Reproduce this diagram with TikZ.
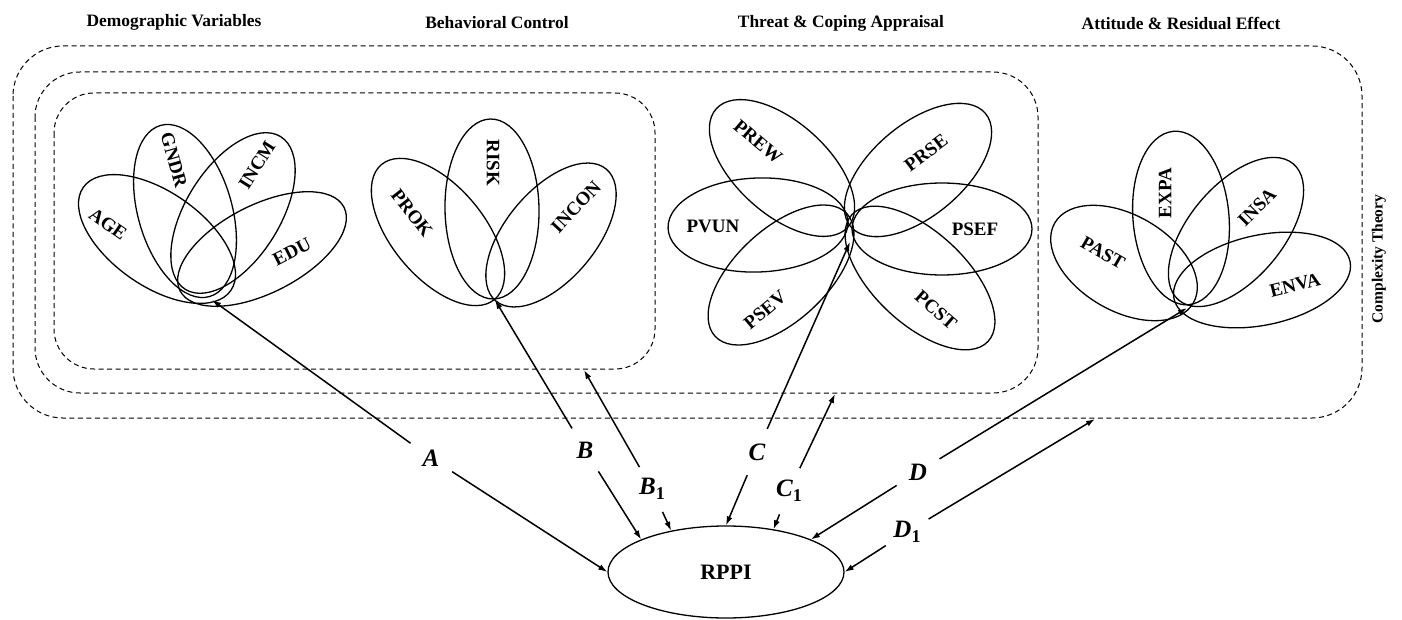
\documentclass[tikz,border=0pt]{standalone}
\usepackage{fontspec}
\setmainfont{Liberation Serif}
\usetikzlibrary{shapes.geometric,arrows.meta}

\newcommand{\subone}{\raisebox{-5pt}{\fontsize{18}{20}\selectfont\upshape 1}}

\begin{document}
\begin{tikzpicture}[x=1pt, y=-1pt,
    petal/.style={draw, line width=1.3pt},
    ptext/.style={font=\fontsize{19}{22}\selectfont\bfseries, inner sep=0pt},
    head/.style={font=\fontsize{17.4}{20}\selectfont\bfseries},
    dbox/.style={draw, line width=1pt, dash pattern=on 5pt off 3.5pt},
    lab/.style={circle, minimum size=50pt, inner sep=0pt, font=\fontsize{25}{27}\selectfont\bfseries\itshape},
    arr/.style={-{Latex[length=9pt,width=6pt]}, line width=1.5pt}]
    \useasboundingbox (0,0) rectangle (1402,620);

    \node[head] (hdem) at (174,22) {Demographic Variables};
    \node[head] (hbeh) at (497,23) {Behavioral Control};
    \node[head] (hthr) at (841,23) {Threat \& Coping Appraisal};
    \node[head] (hatt) at (1181,23) {Attitude \& Residual Effect};
    \node[head, font=\fontsize{15.5}{18}\selectfont\bfseries, rotate=90] (hcx) at (1379,259) {Complexity Theory};

    \draw[dbox, rounded corners=50pt] (13,46) rectangle (1362,418);
    \draw[dbox, rounded corners=45pt] (35,72) rectangle (1038,393);
    \draw[dbox, rounded corners=40pt] (54,93) rectangle (655,369);

    % demographic variables
    \draw[petal, rotate around={-35:(157,239)}] (157,239) ellipse [x radius=90, y radius=47];
    \node[ptext, rotate=-35] (tage) at (108,224) {AGE};
    \draw[petal, rotate around={-74:(185,211)}] (185,211) ellipse [x radius=89, y radius=47];
    \node[ptext, rotate=-74] (tgndr) at (174,160) {GNDR};
    \draw[petal, rotate around={58:(233,213)}] (233,213) ellipse [x radius=90, y radius=47];
    \node[ptext, rotate=58] (tincm) at (257,165) {INCM};
    \draw[petal, rotate around={27:(262,249)}] (262,249) ellipse [x radius=92, y radius=44];
    \node[ptext, rotate=27] (tedu) at (292,252) {EDU};
    \coordinate (fa) at (212,300);

    % behavioral control
    \draw[petal, rotate around={-50:(438,232)}] (438,232) ellipse [x radius=88, y radius=46];
    \node[ptext, rotate=-52] (tprok) at (412,213) {PROK};
    \draw[petal, rotate around={-89:(492,209)}] (492,209) ellipse [x radius=90, y radius=47];
    \node[ptext, rotate=-90] (trisk) at (493,163) {RISK};
    \draw[petal, rotate around={50:(551,235)}] (551,235) ellipse [x radius=86, y radius=45];
    \node[ptext, rotate=47] (tincon) at (576,207) {INCON};
    \coordinate (fb) at (495,300);

    % threat & coping
    \draw[petal, rotate around={-42:(782,168)}] (782,168) ellipse [x radius=88.5, y radius=46];
    \node[ptext, rotate=-40] (tprew) at (758,142) {PREW};
    \draw[petal, rotate around={40:(918,170)}] (918,170) ellipse [x radius=88, y radius=46];
    \node[ptext, rotate=37] (tprse) at (926,153) {PRSE};
    \draw[petal, rotate around={2:(758,225)}] (758,225) ellipse [x radius=90, y radius=47];
    \node[ptext] (tpvun) at (713,226) {PVUN};
    \draw[petal] (942,229) ellipse [x radius=90, y radius=46];
    \node[ptext] (tpsef) at (975,229) {PSEF};
    \draw[petal, rotate around={43:(781,275)}] (781,275) ellipse [x radius=90, y radius=46];
    \node[ptext, rotate=40] (tpsev) at (765,310) {PSEV};
    \draw[petal, rotate around={-43:(920,278)}] (920,278) ellipse [x radius=93, y radius=46];
    \node[ptext, rotate=-41] (tpcst) at (936,310) {PCST};
    \coordinate (fc) at (850,242);

    % attitude & residual effect
    \draw[petal, rotate around={-30:(1124,263)}] (1124,263) ellipse [x radius=80, y radius=48];
    \node[ptext, rotate=-30] (tpast) at (1103,253) {PAST};
    \draw[petal, rotate around={95:(1181,218)}] (1181,218) ellipse [x radius=87, y radius=48];
    \node[ptext, rotate=90] (texpa) at (1165,193) {EXPA};
    \draw[petal, rotate around={50:(1236,232)}] (1236,232) ellipse [x radius=89, y radius=47];
    \node[ptext, rotate=45] (tinsa) at (1257,207) {INSA};
    \draw[petal, rotate around={12:(1262,280)}] (1262,280) ellipse [x radius=90, y radius=45];
    \node[ptext, rotate=14] (tenva) at (1295,285) {ENVA};
    \coordinate (fd) at (1187,308);

    % box edges
    \coordinate (bin) at (584,370);
    \coordinate (bmid) at (835,394);
    \coordinate (bout) at (1095,419);

    \node[draw, ellipse, line width=1.3pt, minimum width=236pt, minimum height=92pt,
          font=\fontsize{22}{24}\selectfont\bfseries] (rppi) at (726,572) {RPPI};

    \node[lab] (la) at (431,458) {A};
    \node[lab] (lb) at (585,450) {B};
    \node[lab] (lb1) at (652,489) {B\subone};
    \node[lab] (lc) at (757,452) {C};
    \node[lab] (lc1) at (789,491) {C\subone};
    \node[lab] (ld) at (918,472) {D};
    \node[lab] (ld1) at (907,532) {D\subone};

    \draw[arr] (la) -- (fa);
    \draw[arr] (la) -- (rppi.180);
    \draw[arr] (lb) -- (fb);
    \draw[arr] (lb) -- (rppi.159);
    \draw[arr] (lb1) -- (bin);
    \draw[arr] (lb1) -- (rppi.143);
    \draw[arr] (lc) -- (fc);
    \draw[arr] (lc) -- (rppi.90);
    \draw[arr] (lc1) -- (bmid);
    \draw[arr] (lc1) -- (rppi.42);
    \draw[arr] (ld) -- (fd);
    \draw[arr] (ld) -- (rppi.21);
    \draw[arr] (ld1) -- (bout);
    \draw[arr] (ld1) -- (rppi.0);
\end{tikzpicture}
\end{document}
